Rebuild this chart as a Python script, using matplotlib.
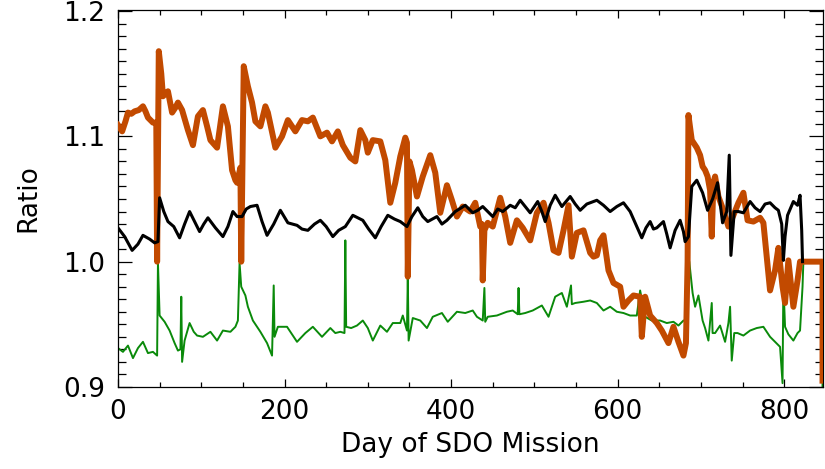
import numpy as np
import matplotlib
matplotlib.use('Agg')
import matplotlib.pyplot as plt
from matplotlib.ticker import MultipleLocator, FormatStrFormatter

# black curve
black_day = [0, 8, 17, 24, 30, 38, 44, 48, 50, 55, 60, 67, 74, 80, 86, 92, 98, 103, 108, 117,
             126, 132, 138, 143, 149, 154, 159, 167, 173, 179, 187, 195, 204, 215, 221, 228, 236,
             243, 250, 258, 265, 273, 282, 294, 301, 309, 316, 324, 332, 339, 347, 353, 360, 366,
             372, 383, 389, 395, 405, 417, 426, 432, 438, 444, 450, 456, 462, 471, 477, 483, 489,
             495, 504, 509, 513, 519, 525, 533, 543, 549, 555, 563, 571, 575, 583, 591, 599, 607,
             615, 623, 629, 634, 639, 643, 647, 655, 659, 663, 669, 675, 679, 681, 685, 689, 695,
             702, 708, 714, 720, 726, 731, 734, 736, 740, 745, 751, 759, 765, 771, 777, 783, 789,
             793, 797, 799, 801, 804, 811, 816, 819, 821, 822]
black_val = [1.027, 1.020, 1.009, 1.014, 1.021, 1.018, 1.015, 1.016, 1.051, 1.040, 1.032, 1.028,
             1.019, 1.030, 1.040, 1.032, 1.024, 1.030, 1.035, 1.027, 1.020, 1.028, 1.040, 1.036,
             1.036, 1.042, 1.044, 1.045, 1.032, 1.021, 1.030, 1.041, 1.031, 1.029, 1.026, 1.025,
             1.030, 1.033, 1.028, 1.020, 1.025, 1.028, 1.037, 1.033, 1.026, 1.019, 1.028, 1.037,
             1.034, 1.032, 1.028, 1.036, 1.043, 1.036, 1.032, 1.036, 1.030, 1.033, 1.040, 1.045,
             1.039, 1.041, 1.044, 1.040, 1.036, 1.042, 1.040, 1.045, 1.043, 1.049, 1.044, 1.039,
             1.048, 1.040, 1.032, 1.045, 1.053, 1.044, 1.052, 1.046, 1.041, 1.046, 1.048, 1.049,
             1.045, 1.040, 1.044, 1.047, 1.040, 1.028, 1.019, 1.027, 1.032, 1.026, 1.027, 1.032,
             1.022, 1.011, 1.025, 1.033, 1.024, 1.016, 1.020, 1.060, 1.065, 1.055, 1.041, 1.050,
             1.063, 1.031, 1.040, 1.085, 1.005, 1.040, 1.040, 1.039, 1.048, 1.043, 1.040, 1.046,
             1.047, 1.043, 1.041, 1.030, 1.001, 1.020, 1.037, 1.048, 1.045, 1.053, 1.025, 1.000]

# orange curve
orange_day = [0, 3, 5, 9, 12, 16, 20, 25, 30, 33, 36, 42, 46, 47, 49, 52, 54, 60, 65, 69, 72, 77,
              84, 90, 96, 102, 107, 111, 119, 126, 132, 137, 141, 143, 147, 148, 151, 156, 161, 165,
              171, 177, 180, 189, 197, 204, 213, 221, 228, 234, 243, 251, 257, 264, 270, 279, 285,
              291, 297, 300, 306, 315, 321, 327, 333, 339, 345, 347, 348, 350, 353, 359, 366, 375,
              381, 387, 395, 401, 407, 414, 423, 429, 435, 437, 438, 440, 444, 450, 459, 465, 471,
              479, 486, 495, 503, 511, 517, 523, 529, 535, 541, 545, 551, 559, 567, 571, 575, 579,
              583, 589, 595, 603, 607, 613, 619, 627, 629, 633, 639, 647, 653, 661, 667, 673, 679,
              682, 684, 685, 689, 695, 699, 702, 705, 708, 711, 713, 715, 717, 721, 727, 733, 739,
              745, 751, 756, 763, 771, 775, 779, 783, 789, 793, 798, 801, 805, 811, 816, 819, 846,
              846]
orange_val = [1.109, 1.106, 1.104, 1.112, 1.119, 1.118, 1.120, 1.121, 1.124, 1.120, 1.115, 1.111,
              1.111, 1.000, 1.168, 1.150, 1.132, 1.136, 1.119, 1.123, 1.127, 1.121, 1.105, 1.093,
              1.116, 1.121, 1.108, 1.097, 1.091, 1.124, 1.108, 1.073, 1.065, 1.063, 1.075, 1.000,
              1.156, 1.140, 1.127, 1.112, 1.108, 1.124, 1.119, 1.091, 1.100, 1.113, 1.104, 1.113,
              1.112, 1.115, 1.100, 1.103, 1.096, 1.104, 1.093, 1.083, 1.080, 1.105, 1.097, 1.087,
              1.097, 1.096, 1.081, 1.047, 1.063, 1.084, 1.099, 1.095, 0.988, 1.080, 1.073, 1.052,
              1.068, 1.085, 1.071, 1.039, 1.061, 1.049, 1.036, 1.044, 1.040, 1.047, 1.028, 1.030,
              0.985, 1.025, 1.031, 1.028, 1.051, 1.036, 1.015, 1.033, 1.027, 1.017, 1.039, 1.047,
              1.031, 1.009, 1.007, 1.025, 1.045, 1.004, 1.023, 1.025, 1.007, 1.004, 1.005, 1.017,
              1.021, 0.993, 0.983, 0.980, 0.964, 0.969, 0.973, 0.972, 0.940, 0.972, 0.957, 0.951,
              0.945, 0.935, 0.948, 0.936, 0.925, 0.935, 1.000, 1.117, 1.097, 1.091, 1.085, 1.076,
              1.073, 1.068, 1.057, 1.020, 1.063, 1.068, 1.052, 1.041, 1.028, 1.037, 1.047, 1.055,
              1.033, 1.032, 1.035, 1.031, 1.004, 0.977, 0.993, 1.011, 0.980, 0.967, 1.001, 0.964,
              0.985, 1.000, 1.000, 0.905]

# green curve
green_day = [0, 6, 12, 18, 24, 30, 36, 42, 47, 48, 50, 56, 62, 68, 72, 75, 76, 77, 80, 86, 91, 95,
             102, 111, 119, 126, 135, 141, 144, 146, 148, 153, 156, 162, 171, 179, 185, 187, 188,
             192, 203, 209, 215, 225, 234, 245, 255, 261, 267, 272, 273, 274, 280, 287, 294, 300,
             306, 315, 323, 330, 339, 342, 347, 348, 349, 354, 363, 371, 378, 389, 396, 407, 417,
             426, 431, 438, 440, 441, 444, 455, 467, 474, 480, 481, 482, 489, 498, 509, 517, 525,
             533, 539, 544, 545, 549, 559, 567, 575, 583, 591, 599, 607, 615, 623, 627, 633, 641,
             651, 659, 667, 673, 679, 683, 686, 690, 693, 697, 702, 705, 709, 713, 714, 717, 723,
             729, 733, 735, 737, 740, 744, 751, 759, 767, 775, 783, 789, 795, 798, 799, 801, 805,
             811, 816, 819, 822, 823, 846, 846]
green_val = [0.931, 0.928, 0.933, 0.923, 0.931, 0.936, 0.927, 0.928, 0.925, 0.999, 0.957, 0.952,
             0.945, 0.935, 0.929, 0.930, 0.972, 0.920, 0.937, 0.951, 0.944, 0.941, 0.940, 0.944,
             0.937, 0.945, 0.944, 0.948, 0.953, 0.999, 0.980, 0.973, 0.964, 0.953, 0.944, 0.935,
             0.925, 0.981, 0.940, 0.948, 0.948, 0.942, 0.936, 0.943, 0.948, 0.940, 0.947, 0.943,
             0.944, 0.943, 1.017, 0.948, 0.947, 0.949, 0.953, 0.947, 0.937, 0.949, 0.944, 0.951,
             0.951, 0.957, 0.945, 0.988, 0.937, 0.955, 0.953, 0.947, 0.956, 0.959, 0.952, 0.960,
             0.959, 0.961, 0.956, 0.953, 0.979, 0.952, 0.956, 0.957, 0.960, 0.961, 0.958, 0.979,
             0.958, 0.959, 0.961, 0.965, 0.956, 0.972, 0.975, 0.964, 0.981, 0.966, 0.967, 0.968,
             0.969, 0.967, 0.961, 0.964, 0.960, 0.959, 0.957, 0.957, 0.977, 0.956, 0.953, 0.953,
             0.951, 0.952, 0.949, 0.953, 0.952, 1.000, 0.975, 0.964, 0.973, 0.953, 0.947, 0.937,
             0.967, 0.943, 0.943, 0.949, 0.936, 0.951, 0.964, 0.921, 0.943, 0.943, 0.941, 0.945,
             0.947, 0.948, 0.940, 0.936, 0.932, 0.903, 0.983, 0.948, 0.942, 0.937, 0.943, 0.945,
             0.980, 1.000, 1.000, 0.895]

plt.rcParams['font.family'] = 'DejaVu Sans'

fig = plt.figure(figsize=(8.25, 4.69), dpi=100)
ax = fig.add_axes([0.143, 0.175, 0.855, 0.804])

ax.plot(green_day, green_val, color='#0a8a0a', lw=1.4, zorder=2)
ax.plot(orange_day, orange_val, color='#c24a00', lw=4.3, solid_joinstyle='round', zorder=3)
ax.plot(black_day, black_val, color='black', lw=2.2, zorder=4)

ax.set_xlim(0, 847)
ax.set_ylim(0.9, 1.201)
ax.xaxis.set_major_locator(MultipleLocator(200))
ax.xaxis.set_minor_locator(MultipleLocator(50))
ax.yaxis.set_major_locator(MultipleLocator(0.1))
ax.yaxis.set_minor_locator(MultipleLocator(0.01))
ax.yaxis.set_major_formatter(FormatStrFormatter('%.1f'))

ax.tick_params(which='both', direction='in', top=True, right=True, labelsize=19, width=0.9)
ax.tick_params(axis='x', which='major', length=6, pad=9)
ax.tick_params(axis='x', which='minor', length=3.5)
ax.tick_params(axis='y', which='major', length=10, pad=9)
ax.tick_params(axis='y', which='minor', length=5.5)
for s in ax.spines.values():
    s.set_linewidth(0.9)

ax.set_xlabel('Day of SDO Mission', fontsize=19, labelpad=5)
ax.set_ylabel('Ratio', fontsize=19, labelpad=16)

fig.savefig('out.png', dpi=100)
